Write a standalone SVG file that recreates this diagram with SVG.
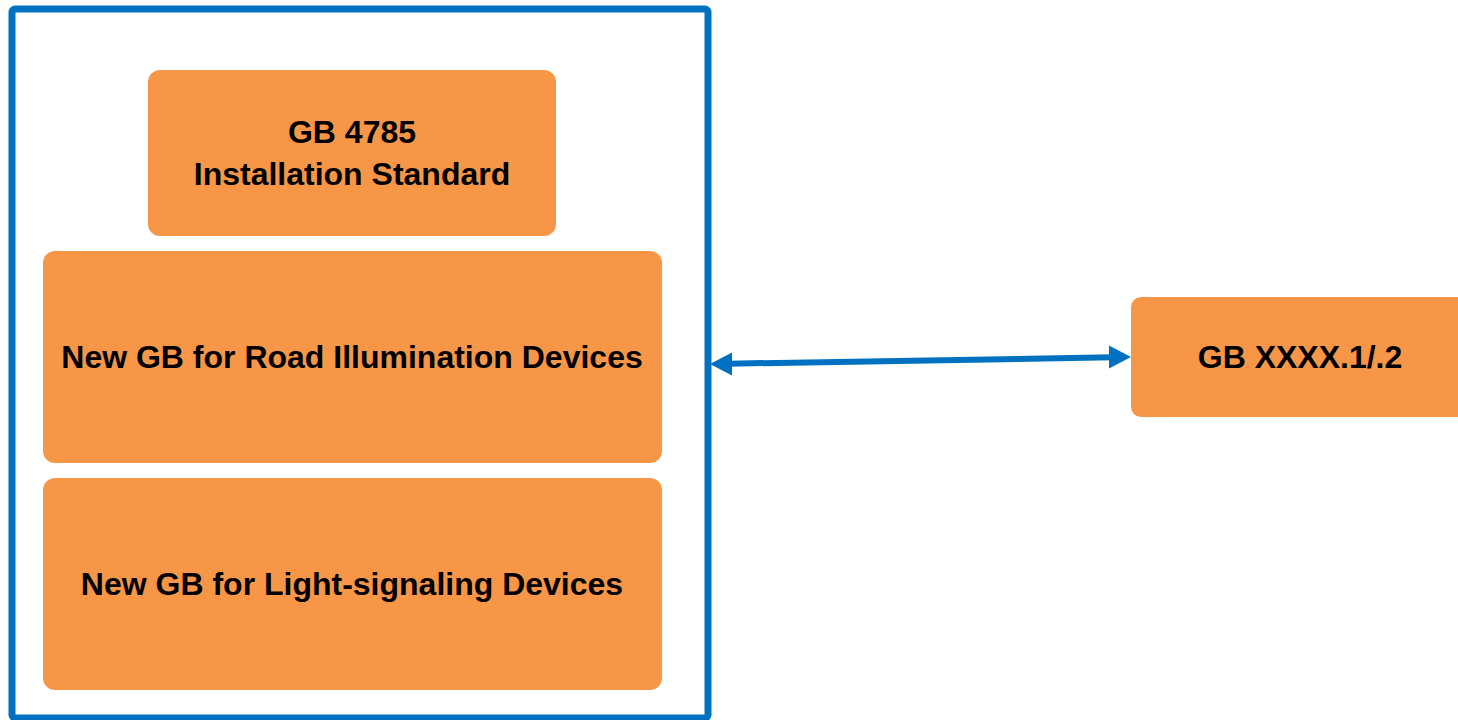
<svg xmlns="http://www.w3.org/2000/svg" width="1458" height="720" viewBox="0 0 1458 720">
<style>
.box{fill:#F79646;}
.t{font-family:"Liberation Sans",Arial,sans-serif;font-weight:bold;font-size:32px;fill:#000;text-anchor:middle;}
.conn{stroke:#0070C0;stroke-width:6;fill:none;}
.head{fill:#0070C0;}
</style>
<rect x="12" y="9" width="696" height="709" rx="3" fill="#fff" stroke="#0070C0" stroke-width="7"/>
<g id="gb4785">
<rect class="box" x="148" y="70" width="408" height="166" rx="12"/>
<text class="t" x="352" y="143">GB 4785</text>
<text class="t" x="352" y="185">Installation Standard</text>
</g>
<g id="road">
<rect class="box" x="43" y="251" width="619" height="212" rx="12"/>
<text class="t" x="352" y="368">New GB for Road Illumination Devices</text>
</g>
<g id="light">
<rect class="box" x="43" y="478" width="619" height="212" rx="12"/>
<text class="t" x="352" y="595">New GB for Light-signaling Devices</text>
</g>
<g id="gbxxxx">
<rect class="box" x="1131" y="297" width="340" height="120" rx="10"/>
<text class="t" x="1300" y="368">GB XXXX.1/.2</text>
</g>
<g id="connectors">
<line class="conn" x1="728" y1="363.7" x2="1113" y2="357.3"/>
<path class="head" d="M710,364 L732,352.6 L732,375.4 Z"/>
<path class="head" d="M1131,357 L1109,345.6 L1109,368.4 Z"/>
</g>
</svg>
